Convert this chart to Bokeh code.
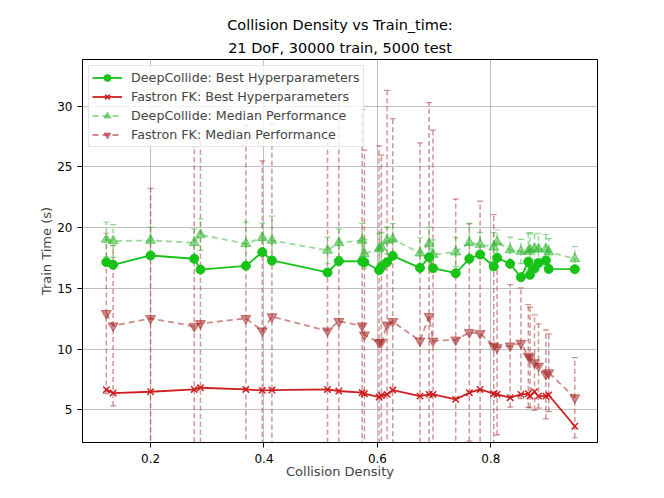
import numpy as np
from bokeh.plotting import figure
from bokeh.models import ColumnDataSource, Whisker, TeeHead, FixedTicker, Legend, LegendItem, Range1d, Title
from bokeh.embed import file_html
from bokeh.resources import INLINE

density = [0.122, 0.134, 0.200, 0.277, 0.288, 0.368, 0.397, 0.414, 0.512, 0.532,
           0.573, 0.577, 0.603, 0.607, 0.617, 0.627, 0.675, 0.691, 0.698, 0.738,
           0.762, 0.781, 0.805, 0.811, 0.834, 0.853, 0.866, 0.869, 0.877, 0.884,
           0.897, 0.902, 0.948]
deep_best = [17.16, 16.94, 17.71, 17.44, 16.55, 16.86, 17.99, 17.30, 16.31, 17.24,
             17.22, 17.16, 16.50, 16.75, 17.16, 17.68, 16.69, 17.57, 16.66, 16.25,
             17.44, 17.79, 16.80, 17.52, 17.02, 15.92, 17.20, 16.12, 16.63, 17.09,
             17.30, 16.60, 16.58]
fast_best = [6.66, 6.38, 6.49, 6.68, 6.82, 6.68, 6.60, 6.63, 6.68, 6.55,
             6.41, 6.33, 6.05, 6.18, 6.27, 6.63, 6.13, 6.27, 6.27, 5.86,
             6.41, 6.68, 6.33, 6.27, 6.00, 6.27, 6.33, 6.13, 6.49, 6.13,
             6.13, 6.22, 3.65]
deep_med = [19.03, 18.90, 18.95, 18.76, 19.42, 18.68, 19.17, 18.95, 18.13, 18.76,
            18.95, 17.85, 18.26, 18.40, 18.95, 19.06, 17.90, 18.68, 17.79, 17.99,
            18.76, 18.62, 18.40, 18.81, 18.18, 18.04, 18.04, 18.20, 18.26, 18.24,
            18.24, 18.00, 17.44]
deep_err = [1.44, 1.35, 1.10, 1.15, 1.30, 1.80, 1.20, 2.00, 1.10, 1.15,
            1.40, 1.20, 1.25, 1.20, 1.10, 1.27, 1.27, 1.37, 1.20, 1.20,
            1.60, 1.00, 1.20, 1.00, 1.05, 1.00, 1.50, 1.40, 1.20, 1.30,
            1.20, 1.10, 1.00]
fast_med = [12.94, 11.92, 12.53, 11.87, 12.11, 12.53, 11.51, 12.67, 11.51, 12.28,
            11.92, 11.18, 10.54, 10.57, 12.00, 12.28, 10.68, 12.70, 10.68, 10.76,
            11.37, 11.29, 10.27, 10.13, 10.27, 10.49, 9.44, 9.30, 8.89, 8.61,
            7.92, 8.06, 6.00]
fast_err = [6.60, 6.60, 10.70, 14.80, 15.10, 15.90, 14.00, 15.90, 15.80, 19.20,
            17.80, 15.20, 16.20, 15.40, 19.30, 16.70, 16.30, 17.60, 17.35, 11.60,
            8.95, 10.90, 10.80, 7.20, 5.05, 4.56, 4.23, 4.15, 3.93, 3.47,
            3.67, 3.20, 3.30]

x_ticks = [0.2, 0.4, 0.6, 0.8]
y_ticks = [5, 10, 15, 20, 25, 30]
title_lines = ["Collision Density vs Train_time:", "21 DoF, 30000 train, 5000 test"]

GREEN = "#17c317"
RED = "#cc1f1f"
GREEN_M = "#2fb82f"
RED_M = "#a82a2a"
FONT = "DejaVu Sans"

src = ColumnDataSource(dict(
    x=density, gb=deep_best, fb=fast_best, gm=deep_med, fm=fast_med,
    g_lo=[m - e for m, e in zip(deep_med, deep_err)],
    g_hi=[m + e for m, e in zip(deep_med, deep_err)],
    f_lo=[m - e for m, e in zip(fast_med, fast_err)],
    f_hi=[m + e for m, e in zip(fast_med, fast_err)],
))

p = figure(width=650, height=488, output_backend="svg", toolbar_location=None,
           x_range=Range1d(0.080, 0.988), y_range=Range1d(2.31, 33.85),
           min_border_left=82, min_border_right=53, min_border_top=59, min_border_bottom=46,
           title=title_lines[0])
p.title.align = "center"
p.title.text_font = FONT
p.title.text_font_style = "normal"
p.title.text_font_size = "14.5px"
p.title.text_color = "black"
p.title.standoff = 1
t2 = Title(text=title_lines[1], align="center", text_font=FONT, text_font_style="normal",
           text_font_size="14.5px", text_color="black", standoff=8)
p.add_layout(t2, "above")

p.background_fill_color = "white"
p.border_fill_color = "white"
p.outline_line_color = "black"
p.outline_line_alpha = 1
p.outline_line_width = 1

for ax in (p.xaxis, p.yaxis):
    ax.axis_label_text_font = FONT
    ax.axis_label_text_font_style = "normal"
    ax.axis_label_text_font_size = "13px"
    ax.major_label_text_font = FONT
    ax.major_label_text_font_size = "12px"
    ax.major_label_text_color = "black"
    ax.minor_tick_line_color = None
    ax.major_tick_in = 0
    ax.major_tick_out = 5
    ax.major_tick_line_color = "black"
    ax.axis_line_color = "black"
p.xaxis.major_label_standoff = 6
p.yaxis.major_label_standoff = 5
p.yaxis.axis_label_standoff = 0
p.xaxis.axis_label_standoff = -2
p.xaxis.axis_label = "Collision Density"
p.yaxis.axis_label = "Train Time (s)"
p.xaxis.ticker = FixedTicker(ticks=x_ticks)
p.yaxis.ticker = FixedTicker(ticks=y_ticks)
p.xgrid.ticker = FixedTicker(ticks=x_ticks)
p.ygrid.ticker = FixedTicker(ticks=y_ticks)
p.grid.grid_line_color = "#b0b0b0"
p.grid.grid_line_alpha = 0.8
p.grid.grid_line_width = 1

# error bars of the median series
fw = Whisker(source=src, base="x", lower="f_lo", upper="f_hi", dimension="height",
             line_color=RED_M, line_alpha=0.5, line_width=1.5, line_dash="5 3",
             upper_head=TeeHead(size=6, line_color=RED_M, line_alpha=0.5, line_width=1.2),
             lower_head=TeeHead(size=6, line_color=RED_M, line_alpha=0.5, line_width=1.2))
p.add_layout(fw)
gw = Whisker(source=src, base="x", lower="g_lo", upper="g_hi", dimension="height",
             line_color=GREEN_M, line_alpha=0.5, line_width=1.5, line_dash="5 3",
             upper_head=TeeHead(size=6, line_color=GREEN_M, line_alpha=0.5, line_width=1.2),
             lower_head=TeeHead(size=6, line_color=GREEN_M, line_alpha=0.5, line_width=1.2))
p.add_layout(gw)

# median series
fm_line = p.line("x", "fm", source=src, color=RED_M, alpha=0.55, line_width=1.8, line_dash="6 4")
fm_mark = p.scatter("x", "fm", source=src, marker="inverted_triangle", size=10,
                    fill_color=RED_M, line_color=RED_M, alpha=0.55)
gm_line = p.line("x", "gm", source=src, color=GREEN_M, alpha=0.5, line_width=1.8, line_dash="6 4")
gm_mark = p.scatter("x", "gm", source=src, marker="triangle", size=10,
                    fill_color=GREEN_M, line_color=GREEN_M, alpha=0.55)

# best series
gb_line = p.line("x", "gb", source=src, color=GREEN, line_width=1.8)
gb_mark = p.scatter("x", "gb", source=src, marker="circle", size=9,
                    fill_color=GREEN, line_color=GREEN)
fb_line = p.line("x", "fb", source=src, color=RED, line_width=1.8)
fb_mark = p.scatter("x", "fb", source=src, marker="x", size=9, line_color=RED, line_width=1.5)

# legend-only error bar glyphs
g_eb = p.scatter(x=[], y=[], marker="dash", angle=np.pi / 2, size=14,
                 line_color=GREEN_M, line_alpha=0.5, line_width=1.5)
f_eb = p.scatter(x=[], y=[], marker="dash", angle=np.pi / 2, size=14,
                 line_color=RED_M, line_alpha=0.55, line_width=1.5)

legend = Legend(items=[
    LegendItem(label="DeepCollide: Best Hyperparameters", renderers=[gb_line, gb_mark]),
    LegendItem(label="Fastron FK: Best Hyperparameters", renderers=[fb_line, fb_mark]),
    LegendItem(label="DeepCollide: Median Performance", renderers=[gm_line, g_eb, gm_mark]),
    LegendItem(label="Fastron FK: Median Performance", renderers=[fm_line, f_eb, fm_mark]),
], location="top_left")
legend.label_text_font = FONT
legend.label_text_font_size = "12.7px"
legend.label_height = 17
legend.glyph_height = 17
legend.glyph_width = 30
legend.spacing = 2
legend.padding = 3
legend.margin = 6
legend.border_line_color = "#cccccc"
legend.border_line_width = 1
legend.background_fill_alpha = 0.8
legend.label_standoff = 9
p.add_layout(legend)

open("out.html", "w").write(file_html(p, INLINE))
